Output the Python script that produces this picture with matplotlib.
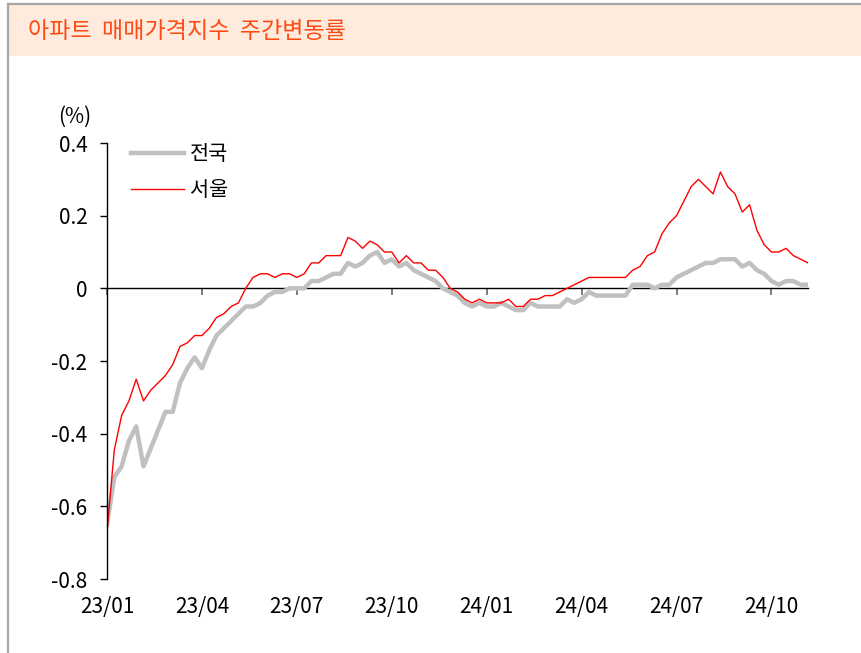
import numpy as np
import matplotlib

matplotlib.use("Agg")
import matplotlib.pyplot as plt
from matplotlib.lines import Line2D
from matplotlib.patches import Rectangle

plt.rcParams["font.family"] = ["Noto Sans CJK KR", "DejaVu Sans"]

title = "아파트  매매가격지수  주간변동률"
series_names = ["전국", "서울"]
x_labels = ["23/01", "23/04", "23/07", "23/10", "24/01", "24/04", "24/07", "24/10"]
y_ticks = [0.4, 0.2, 0.0, -0.2, -0.4, -0.6, -0.8]
y_labels = ["0.4", "0.2", "0", "-0.2", "-0.4", "-0.6", "-0.8"]

# weekly % change, 2023-01 week 1 onward
national = [
    -0.65, -0.52, -0.49, -0.42, -0.38, -0.49, -0.44, -0.39, -0.34, -0.34,
    -0.26, -0.22, -0.19, -0.22, -0.17, -0.13, -0.11, -0.09, -0.07, -0.05,
    -0.05, -0.04, -0.02, -0.01, -0.01, 0.00, 0.00, 0.00, 0.02, 0.02,
    0.03, 0.04, 0.04, 0.07, 0.06, 0.07, 0.09, 0.10, 0.07, 0.08,
    0.06, 0.07, 0.05, 0.04, 0.03, 0.02, 0.00, -0.01, -0.02, -0.04,
    -0.05, -0.04, -0.05, -0.05, -0.04, -0.05, -0.06, -0.06, -0.04, -0.05,
    -0.05, -0.05, -0.05, -0.03, -0.04, -0.03, -0.01, -0.02, -0.02, -0.02,
    -0.02, -0.02, 0.01, 0.01, 0.01, 0.00, 0.01, 0.01, 0.03, 0.04,
    0.05, 0.06, 0.07, 0.07, 0.08, 0.08, 0.08, 0.06, 0.07, 0.05,
    0.04, 0.02, 0.01, 0.02, 0.02, 0.01, 0.01,
]
seoul = [
    -0.67, -0.445, -0.35, -0.31, -0.25, -0.31, -0.28, -0.26, -0.24, -0.21,
    -0.16, -0.15, -0.13, -0.13, -0.11, -0.08, -0.07, -0.05, -0.04, 0.00,
    0.03, 0.04, 0.04, 0.03, 0.04, 0.04, 0.03, 0.04, 0.07, 0.07,
    0.09, 0.09, 0.09, 0.14, 0.13, 0.11, 0.13, 0.12, 0.10, 0.10,
    0.07, 0.09, 0.07, 0.07, 0.05, 0.05, 0.03, 0.00, -0.01, -0.03,
    -0.04, -0.03, -0.04, -0.04, -0.04, -0.03, -0.05, -0.05, -0.03, -0.03,
    -0.02, -0.02, -0.01, 0.00, 0.01, 0.02, 0.03, 0.03, 0.03, 0.03,
    0.03, 0.03, 0.05, 0.06, 0.09, 0.10, 0.15, 0.18, 0.20, 0.24,
    0.28, 0.30, 0.28, 0.26, 0.32, 0.28, 0.26, 0.21, 0.23, 0.16,
    0.12, 0.10, 0.10, 0.11, 0.09, 0.08, 0.07,
]

x = np.arange(len(seoul))
tick_pos = x[::13]

fig = plt.figure(figsize=(8.62, 6.53), dpi=100)

# header band and frame
fig.patches.append(Rectangle((9 / 862, 1 - 56 / 653), 853 / 862, 51 / 653,
                             transform=fig.transFigure, facecolor="#FEEBDD", edgecolor="none"))
fig.lines.append(Line2D([8 / 862, 1], [1 - 4 / 653] * 2, transform=fig.transFigure,
                        color="#A6A6A6", linewidth=1.6))
fig.lines.append(Line2D([8 / 862] * 2, [0, 1 - 4 / 653], transform=fig.transFigure,
                        color="#A6A6A6", linewidth=1.6))
fig.text(28 / 862, 1 - 32 / 653, title, color="#FF4A14", fontsize=16.6, va="center", ha="left")

ax = fig.add_axes([107 / 862, 1 - 579 / 653, 701 / 862, 436 / 653])
ax.plot(x, national, color="#C0C0C0", linewidth=3.2, label=series_names[0], solid_joinstyle="round")
ax.plot(x, seoul, color="#FF0000", linewidth=1.0, label=series_names[1])

ax.set_xlim(0, len(x) - 1)
ax.set_ylim(-0.8, 0.4)
ax.set_yticks(y_ticks)
ax.set_yticklabels(y_labels)
ax.set_xticks(tick_pos)
ax.set_xticklabels(x_labels)

for side in ["top", "right", "bottom"]:
    ax.spines[side].set_visible(False)
ax.spines["left"].set_linewidth(1.0)
ax.tick_params(axis="y", direction="out", length=5, width=1.0, pad=9, labelsize=15)
ax.tick_params(axis="x", length=0, pad=12, labelsize=15)

# zero line carrying the quarter ticks
zero_axis = ax.secondary_xaxis(0.8 / 1.2)
zero_axis.set_xticks(tick_pos)
zero_axis.set_xticklabels([])
zero_axis.tick_params(direction="in", length=5, width=1.2, color="#666666")
zero_axis.spines["top"].set_linewidth(1.0)
zero_axis.spines["bottom"].set_visible(False)

fig.text(75 / 862, 1 - 117 / 653, "(%)", fontsize=15, ha="center", va="center")

ax.legend(loc="upper left", bbox_to_anchor=(0.013, 1.033), frameon=False, fontsize=15,
          handlelength=2.55, handletextpad=0.3, labelspacing=0.68, borderpad=0.2)

fig.savefig("out.png", dpi=100)
